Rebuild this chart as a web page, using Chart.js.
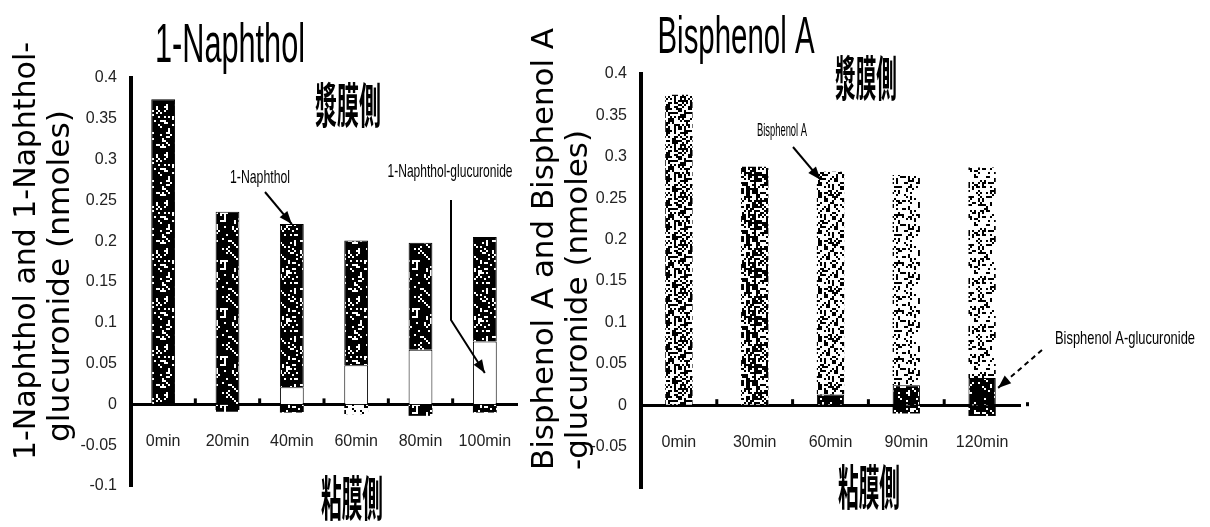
<!DOCTYPE html>
<html>
<head>
<meta charset="utf-8">
<script src="https://cdn.jsdelivr.net/npm/chart.js@4.4.1/dist/chart.umd.min.js"></script>
<style>
    html, body { margin: 0; padding: 0; background: #fff; }
    #wrap { position: relative; width: 1210px; height: 527px; }
    #wrap canvas { position: absolute; left: 0; top: 0; }
</style>
</head>
<body>
<div id="wrap">
    <canvas id="left" width="1210" height="527"></canvas>
    <canvas id="right" width="1210" height="527"></canvas>
</div>
<script>
/* eslint-disable no-magic-numbers */

// 1-Naphthol panel
var naphtholTimes = ['0min', '20min', '40min', '60min', '80min', '100min'];
var naphthol = [0.374, 0.236, 0.200, 0.153, 0.131, 0.128];
var naphtholGluc = [0, 0, 0.021, 0.048, 0.067, 0.077];
var naphtholBelow = [0, -0.009, -0.010, -0.012, -0.014, -0.010];
var naphtholTicks = ['-0.1', '-0.05', '0', '0.05', '0.1', '0.15', '0.2', '0.25', '0.3', '0.35', '0.4'];

// Bisphenol A panel
var bpaTimes = ['0min', '30min', '60min', '90min', '120min'];
var bpa = [0.375, 0.288, 0.269, 0.254, 0.254];
var bpaGluc = [0, 0, 0.013, 0.024, 0.033];
var bpaBelow = [0, 0, 0, -0.010, -0.013];
var bpaTicks = ['', '-0.05', '0', '0.05', '0.1', '0.15', '0.2', '0.25', '0.3', '0.35', '0.4'];

var SANS = '"Liberation Sans", Arial, sans-serif';
var CJK = '"Noto Sans CJK JP", "Noto Sans CJK SC", sans-serif';

// speckled fill like the scanned bars (fixed seed, same every run)
var speckle = function (density, seed) {
    var c = document.createElement('canvas');
    c.width = 48;
    c.height = 48;
    var g = c.getContext('2d');
    g.fillStyle = '#fff';
    g.fillRect(0, 0, 48, 48);
    g.fillStyle = '#000';
    var s = seed;
    for (var y = 0; y < 48; y += 2) {
        for (var x = 0; x < 48; x += 2) {
            s = (s * 1103515245 + 12345) % 2147483648;
            if (s / 2147483648 < density) g.fillRect(x, y, 2, 2);
        }
    }
    return g.createPattern(c, 'repeat');
};

// text squeezed sideways to the condensed face of the original
var fitText = function (ctx, text, x, y, font, width, rotate, baseline) {
    ctx.save();
    ctx.font = font;
    var w = ctx.measureText(text).width;
    ctx.translate(x, y);
    if (rotate) ctx.rotate(-Math.PI / 2);
    ctx.scale(width / w, 1);
    ctx.textAlign = 'center';
    ctx.textBaseline = baseline || 'middle';
    ctx.fillStyle = '#000';
    ctx.fillText(text, 0, 0);
    ctx.restore();
};

var arrow = function (ctx, pts, dashed) {
    ctx.save();
    ctx.strokeStyle = '#000';
    ctx.fillStyle = '#000';
    ctx.lineWidth = 2;
    if (dashed) ctx.setLineDash([5, 4]);
    ctx.beginPath();
    ctx.moveTo(pts[0][0], pts[0][1]);
    for (var i = 1; i < pts.length; i++) ctx.lineTo(pts[i][0], pts[i][1]);
    ctx.stroke();
    ctx.setLineDash([]);
    var a = pts[pts.length - 2], b = pts[pts.length - 1];
    var ang = Math.atan2(b[1] - a[1], b[0] - a[0]);
    ctx.beginPath();
    ctx.moveTo(b[0], b[1]);
    ctx.lineTo(b[0] - 13 * Math.cos(ang) + 5 * Math.sin(ang), b[1] - 13 * Math.sin(ang) - 5 * Math.cos(ang));
    ctx.lineTo(b[0] - 13 * Math.cos(ang) - 5 * Math.sin(ang), b[1] - 13 * Math.sin(ang) + 5 * Math.cos(ang));
    ctx.closePath();
    ctx.fill();
    ctx.restore();
};

// small marks sitting on the x axis between categories
var boundaryMarks = function (chart, n, extra) {
    var ctx = chart.ctx, xs = chart.scales.x, y0 = chart.scales.y.getPixelForValue(0);
    ctx.save();
    ctx.fillStyle = '#000';
    for (var i = 1; i < n; i++) {
        var bx = (xs.getPixelForValue(i - 1) + xs.getPixelForValue(i)) / 2;
        ctx.fillRect(bx - 1.5, y0 - 6, 3, 5);
    }
    if (extra) ctx.fillRect(xs.right + 6, y0 - 3, 3, 4);
    ctx.restore();
};

var scalesFor = function (labels, ticks, pad) {
    return {
        x: {
            type: 'category',
            labels: labels,
            stacked: true,
            offset: true,
            position: { y: 0 },
            grid: { drawOnChartArea: false, drawTicks: false },
            border: { display: true, color: '#000', width: 3 },
            ticks: {
                padding: 28,
                maxRotation: 0,
                minRotation: 0,
                autoSkip: false,
                color: '#222',
                font: { family: SANS, size: 16 }
            }
        },
        y: {
            stacked: true,
            min: -0.1,
            max: 0.4,
            afterFit: function (s) { s.width = 60; },
            grid: { drawOnChartArea: false, drawTicks: false },
            border: { display: true, color: '#000', width: 4 },
            ticks: {
                stepSize: 0.05,
                autoSkip: false,
                padding: pad,
                color: '#222',
                font: { family: SANS, size: 16 },
                callback: function (v, i) { return ticks[i]; }
            }
        }
    };
};

var dark = speckle(0.8, 7);
var light = speckle(0.35, 11);

var leftChart = new Chart(document.getElementById('left'), {
    type: 'bar',
    data: {
        labels: naphtholTimes,
        datasets: [{
            label: '1-Naphthol-glucuronide',
            data: naphtholGluc,
            backgroundColor: '#fff',
            borderColor: '#000',
            borderWidth: 1,
            barPercentage: 0.37,
            categoryPercentage: 1
        }, {
            label: '1-Naphthol',
            data: naphthol,
            backgroundColor: dark,
            borderColor: '#000',
            borderWidth: 1,
            barPercentage: 0.37,
            categoryPercentage: 1
        }, {
            label: '',
            data: naphtholBelow,
            backgroundColor: [dark, dark, dark, light, dark, dark],
            borderWidth: 0,
            barPercentage: 0.37,
            categoryPercentage: 1
        }]
    },
    options: {
        responsive: false,
        animation: false,
        events: [],
        layout: { padding: { left: 71, right: 693, top: 78, bottom: 41 } },
        plugins: { legend: { display: false }, tooltip: { enabled: false } },
        scales: scalesFor(naphtholTimes, naphtholTicks, 14)
    },
    plugins: [{
        id: 'naphtholNotes',
        afterDraw: function (chart) {
            var ctx = chart.ctx, xs = chart.scales.x, ys = chart.scales.y;
            boundaryMarks(chart, naphtholTimes.length, false);
            fitText(ctx, '1-Naphthol', 230, 62, '56px ' + SANS, 150, false, 'alphabetic');
            fitText(ctx, '漿膜側', 348, 105, 'bold 48px ' + CJK, 66);
            fitText(ctx, '粘膜側', 352, 498, 'bold 48px ' + CJK, 62);
            fitText(ctx, '1-Naphthol', 260, 178, '19px ' + SANS, 60);
            fitText(ctx, '1-Naphthol-glucuronide', 450, 172, '19px ' + SANS, 125);
            fitText(ctx, '1-Naphthol and 1-Naphthol-', 35, 251, '30px "DejaVu Sans"', 418, true, 'alphabetic');
            fitText(ctx, 'glucuronide (nmoles)', 69, 276, '30px "DejaVu Sans"', 332, true, 'alphabetic');
            arrow(ctx, [[265, 192], [xs.getPixelForValue(2), ys.getPixelForValue(naphthol[2] + naphtholGluc[2])]]);
            arrow(ctx, [[451, 200], [451, 320], [xs.getPixelForValue(5), ys.getPixelForValue(naphtholGluc[5] / 2)]]);
        }
    }]
});

var rightChart = new Chart(document.getElementById('right'), {
    type: 'bar',
    data: {
        labels: bpaTimes,
        datasets: [{
            label: 'Bisphenol A-glucuronide',
            data: bpaGluc,
            backgroundColor: speckle(0.86, 23),
            borderColor: '#000',
            borderWidth: 1,
            barPercentage: 0.36,
            categoryPercentage: 1
        }, {
            label: 'Bisphenol A',
            data: bpa,
            backgroundColor: [speckle(0.5, 3), speckle(0.5, 5), speckle(0.42, 9), speckle(0.25, 13), speckle(0.3, 17)],
            borderWidth: 0,
            barPercentage: 0.36,
            categoryPercentage: 1
        }, {
            label: '',
            data: bpaBelow,
            backgroundColor: speckle(0.86, 29),
            borderWidth: 0,
            barPercentage: 0.36,
            categoryPercentage: 1
        }]
    },
    options: {
        responsive: false,
        animation: false,
        events: [],
        layout: { padding: { left: 581, right: 190, top: 74, bottom: 39 } },
        plugins: { legend: { display: false }, tooltip: { enabled: false } },
        scales: scalesFor(bpaTimes, bpaTicks, 14)
    },
    plugins: [{
        id: 'bpaNotes',
        afterDraw: function (chart) {
            var ctx = chart.ctx, xs = chart.scales.x, ys = chart.scales.y;
            boundaryMarks(chart, bpaTimes.length, true);
            fitText(ctx, 'Bisphenol A', 736, 53, '52px ' + SANS, 157, false, 'alphabetic');
            fitText(ctx, '漿膜側', 866, 78, 'bold 48px ' + CJK, 62);
            fitText(ctx, '粘膜側', 869, 487, 'bold 48px ' + CJK, 62);
            fitText(ctx, 'Bisphenol A', 782, 131, '19px ' + SANS, 50);
            fitText(ctx, 'Bisphenol A-glucuronide', 1125, 339, '19px ' + SANS, 140);
            fitText(ctx, 'Bisphenol A and Bisphenol A', 553, 249, '31px "DejaVu Sans"', 442, true, 'alphabetic');
            fitText(ctx, '-glucuronide (nmoles)', 587, 300, '31px "DejaVu Sans"', 340, true, 'alphabetic');
            arrow(ctx, [[793, 147], [xs.getPixelForValue(2) - 10, ys.getPixelForValue(bpa[2] + bpaGluc[2]) + 8]]);
            arrow(ctx, [[1042, 350], [xs.getPixelForValue(4) + 16, ys.getPixelForValue(bpaGluc[4]) + 10]], true);
        }
    }]
});
</script>
</body>
</html>
